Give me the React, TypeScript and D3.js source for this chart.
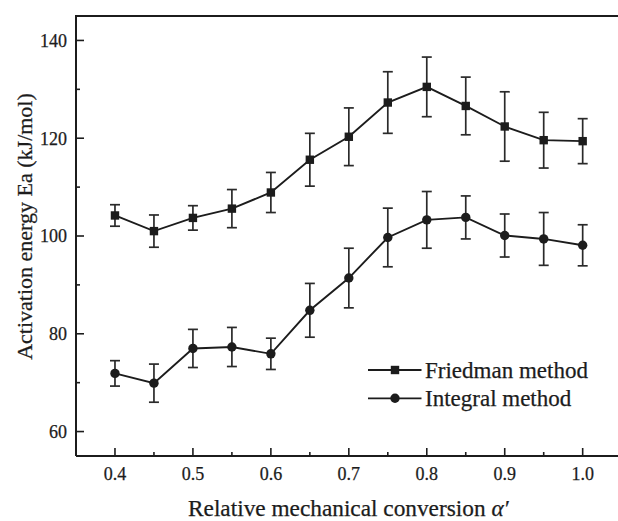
import React from "react";
import * as d3 from "d3";

// Relative mechanical conversion values (x)
const conversion = [0.4, 0.45, 0.5, 0.55, 0.6, 0.65, 0.7, 0.75, 0.8, 0.85, 0.9, 0.95, 1.0];

// Friedman method: activation energy and error (kJ/mol)
const friedmanEa = [104.2, 101.0, 103.7, 105.6, 108.9, 115.6, 120.3, 127.3, 130.5, 126.6, 122.4, 119.6, 119.4];
const friedmanErr = [2.2, 3.3, 2.5, 3.9, 4.1, 5.4, 5.9, 6.3, 6.1, 5.9, 7.1, 5.7, 4.6];

// Integral method: activation energy and error (kJ/mol)
const integralEa = [71.9, 69.9, 77.0, 77.3, 75.9, 84.8, 91.4, 99.7, 103.3, 103.8, 100.1, 99.4, 98.1];
const integralErr = [2.6, 3.9, 3.9, 4.0, 3.2, 5.5, 6.1, 6.0, 5.8, 4.4, 4.4, 5.4, 4.2];

const xMajorTicks = [0.4, 0.5, 0.6, 0.7, 0.8, 0.9, 1.0];
const xMinorTicks = [0.45, 0.55, 0.65, 0.75, 0.85, 0.95];
const yMajorTicks = [60, 80, 100, 120, 140];
const yMinorTicks = [70, 90, 110, 130];

const seriesNames = ["Friedman method", "Integral method"];

const W = 618;
const H = 521;
const left = 76;
const top = 16;
const bottom = 456;

const FONT = "'Liberation Serif', 'Times New Roman', serif";
const INK = "#1c1c1c";

export default function App() {
  const x = d3.scaleLinear().domain([0.35, 1.05]).range([left, left + 0.7 * 779.5]);
  const y = d3.scaleLinear().domain([55, 145]).range([bottom, top]);

  const line = d3
    .line<number>()
    .x((_, i) => x(conversion[i]))
    .y((d) => y(d));

  const series = [
    { name: seriesNames[0], values: friedmanEa, err: friedmanErr, shape: "square" },
    { name: seriesNames[1], values: integralEa, err: integralErr, shape: "circle" },
  ];

  const marker = (shape: string, cx: number, cy: number, key?: string | number) =>
    shape === "square" ? (
      <rect key={key} x={cx - 4.2} y={cy - 4.2} width={8.4} height={8.4} fill={INK} />
    ) : (
      <circle key={key} cx={cx} cy={cy} r={4.7} fill={INK} />
    );

  const textStyle = { stroke: INK, strokeWidth: 0.25 };

  return (
    <svg
      width={W}
      height={H}
      style={{ position: "absolute", left: 0, top: 0, background: "#fff" }}
      fontFamily={FONT}
    >
      <rect width={W} height={H} fill="#fff" />

      {/* frame: left, bottom, top */}
      <line x1={left} y1={top} x2={left} y2={bottom} stroke={INK} strokeWidth={2} />
      <line x1={left} y1={bottom} x2={W} y2={bottom} stroke={INK} strokeWidth={2} />
      <line x1={left - 1} y1={top} x2={W} y2={top} stroke={INK} strokeWidth={2.2} />

      {/* x ticks (inward) */}
      {xMajorTicks.map((t) => (
        <g key={"xm" + t}>
          <line x1={x(t)} x2={x(t)} y1={bottom} y2={bottom - 8} stroke={INK} strokeWidth={1.6} />
          <text x={x(t)} y={480} fontSize={18} textAnchor="middle" fill={INK} style={textStyle}>
            {t.toFixed(1)}
          </text>
        </g>
      ))}
      {xMinorTicks.map((t) => (
        <line key={"xn" + t} x1={x(t)} x2={x(t)} y1={bottom} y2={bottom - 4} stroke={INK} strokeWidth={1.6} />
      ))}

      {/* y ticks (inward) */}
      {yMajorTicks.map((t) => (
        <g key={"ym" + t}>
          <line x1={left} x2={left + 8} y1={y(t)} y2={y(t)} stroke={INK} strokeWidth={1.6} />
          <text x={67} y={y(t)} dy="0.35em" fontSize={18} textAnchor="end" fill={INK} style={textStyle}>
            {t}
          </text>
        </g>
      ))}
      {yMinorTicks.map((t) => (
        <line key={"yn" + t} x1={left} x2={left + 4} y1={y(t)} y2={y(t)} stroke={INK} strokeWidth={1.6} />
      ))}

      {/* series */}
      {series.map((s) => (
        <g key={s.name}>
          <path d={line(s.values) || ""} fill="none" stroke={INK} strokeWidth={1.9} />
          {s.values.map((v, i) => {
            const cx = x(conversion[i]);
            const y1 = y(v + s.err[i]);
            const y2 = y(v - s.err[i]);
            return (
              <g key={i} stroke="#2a2a2a" strokeWidth={1.7}>
                <line x1={cx} x2={cx} y1={y1} y2={y2} />
                <line x1={cx - 5} x2={cx + 5} y1={y1} y2={y1} />
                <line x1={cx - 5} x2={cx + 5} y1={y2} y2={y2} />
              </g>
            );
          })}
          {s.values.map((v, i) => marker(s.shape, x(conversion[i]), y(v), i))}
        </g>
      ))}

      {/* legend */}
      {series.map((s, i) => {
        const ly = 370 + i * 28.3;
        return (
          <g key={"lg" + s.name}>
            <line x1={368} x2={421.5} y1={ly} y2={ly} stroke={INK} strokeWidth={1.8} />
            {marker(s.shape, 395, ly)}
            <text x={425} y={ly} dy="0.35em" fontSize={23} fill={INK} style={textStyle}>
              {s.name}
            </text>
          </g>
        );
      })}

      {/* axis titles */}
      <text x={188} y={516} fontSize={23.3} fill={INK} style={textStyle}>
        Relative mechanical conversion <tspan fontStyle="italic">α′</tspan>
      </text>
      <text
        transform={`translate(31.5, 226.5) rotate(-90)`}
        fontSize={22}
        textAnchor="middle"
        fill={INK}
        style={textStyle}
      >
        Activation energy Ea (kJ/mol)
      </text>
    </svg>
  );
}
